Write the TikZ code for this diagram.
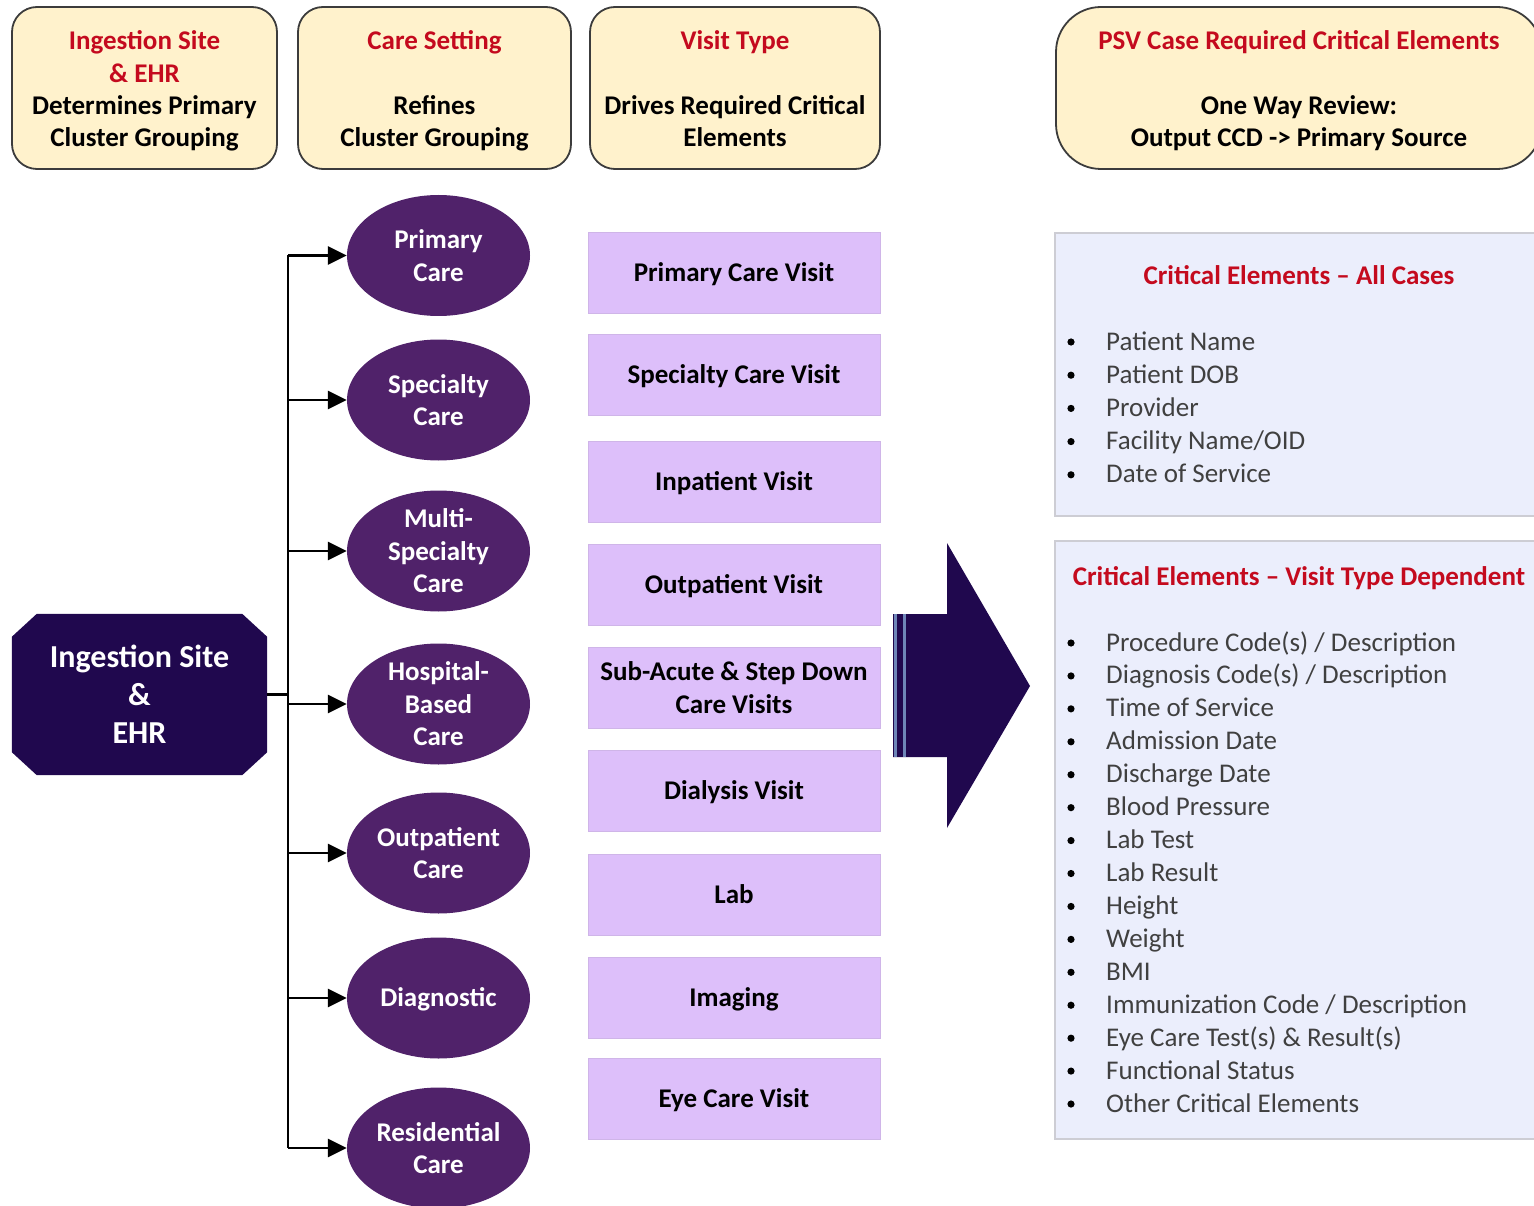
\documentclass[tikz,border=0pt]{standalone}
\usepackage{fontspec}
\setmainfont{Carlito}
\usetikzlibrary{arrows.meta,shapes.geometric,calc}
\definecolor{hdrfill}{RGB}{255,242,204}
\definecolor{hdrline}{RGB}{60,60,60}
\definecolor{redtxt}{RGB}{196,10,30}
\definecolor{indigo}{RGB}{32,8,78}
\definecolor{ellfill}{RGB}{80,34,106}
\definecolor{rectfill}{RGB}{221,191,250}
\definecolor{boxfill}{RGB}{235,238,252}
\definecolor{boxline}{RGB}{205,205,212}
\definecolor{itemtxt}{RGB}{64,64,64}
\definecolor{stripe}{RGB}{110,134,184}
\begin{document}
\begin{tikzpicture}[x=1pt,y=-1pt,
  hdr/.style={draw=hdrline, line width=1.8pt, fill=hdrfill, rounded corners=25pt,
    inner sep=0pt, minimum height=162pt},
  hdrtxt/.style={align=center, inner sep=0pt, font=\bfseries\fontsize{27}{32.3}\selectfont},
  ell/.style={ellipse, fill=ellfill, text=white, align=center, inner sep=0pt,
    minimum width=183pt, minimum height=121pt,
    font=\bfseries\fontsize{27}{32.5}\selectfont},
  visit/.style={rectangle, fill=rectfill, draw=rectfill!85!gray, line width=0.6pt,
    align=center, inner sep=0pt, minimum width=292pt, minimum height=81pt,
    font=\bfseries\fontsize{27}{33}\selectfont},
  oneline/.style={text height=23.5pt, text depth=6pt},
  info/.style={rectangle, fill=boxfill, draw=boxline, line width=1.4pt, inner sep=0pt},
  ttl/.style={text=redtxt, font=\bfseries\fontsize{27}{32}\selectfont, inner sep=0pt},
  item/.style={anchor=base west, text=itemtxt, font=\fontsize{27}{32}\selectfont, inner sep=0pt},
  arr/.style={line width=2.6pt, -{Triangle[length=19pt,width=18pt]}},
  trunk/.style={line width=2.6pt}
]
\useasboundingbox (0,0) rectangle (1534,1206);
\clip (0,0) rectangle (1534,1206);

% header boxes
\node[hdr, minimum width=265pt] (h1) at (144.5,88) {};
\node[hdr, minimum width=273pt] (h2) at (434.5,88) {};
\node[hdr, minimum width=290pt] (h3) at (735,88) {};
\node[hdr, minimum width=486pt, rounded corners=45pt] (h4) at (1299,88) {};
\node[hdrtxt] (h1t) at (144.5,91) {\textcolor{redtxt}{Ingestion Site}\\\textcolor{redtxt}{\& EHR}\\Determines Primary\\Cluster Grouping};
\node[hdrtxt] (h2t) at (434.5,91) {\textcolor{redtxt}{Care Setting}\\[32.3pt]Refines\\Cluster Grouping};
\node[hdrtxt] (h3t) at (735,88.5) {\textcolor{redtxt}{Visit Type}\\[32.3pt]Drives Required Critical\\Elements};
\node[hdrtxt] (h4t) at (1299,91) {\textcolor{redtxt}{PSV Case Required Critical Elements}\\[32.3pt]One Way Review:\\Output CCD -> Primary Source};

% octagon
\node[minimum width=255pt, minimum height=161pt, inner sep=0pt] (oct) at (139.5,694.5) {};
\fill[indigo] ([xshift=25pt]oct.north west) -- ([xshift=-25pt]oct.north east)
  -- ([yshift=-23pt]oct.north east) -- ([yshift=23pt]oct.south east)
  -- ([xshift=-25pt]oct.south east) -- ([xshift=25pt]oct.south west)
  -- ([yshift=23pt]oct.south west) -- ([yshift=-23pt]oct.north west) -- cycle;
\node[text=white, align=center, inner sep=0pt, font=\bfseries\fontsize{32}{38}\selectfont] (octtxt) at (oct.center) {Ingestion Site\\\&\\EHR};

% ellipses
\node[ell] (e1) at (438.5,255.5) {Primary\\Care};
\node[ell] (e2) at (438.5,400) {Specialty\\Care};
\node[ell] (e3) at (438.5,551) {Multi-\\Specialty\\Care};
\node[ell] (e4) at (438.5,704) {Hospital-\\Based\\Care};
\node[ell] (e5) at (438.5,853) {Outpatient\\Care};
\node[ell, oneline] (e6) at (438.5,998) {Diagnostic};
\node[ell] (e7) at (438.5,1148) {Residential\\Care};

% connectors
\coordinate (ttop) at (288,255.5);
\coordinate (tbot) at (288,1148);
\draw[trunk] (ttop) -- (tbot);
\draw[trunk] (oct.east) -- (oct.east -| ttop);
\foreach \k in {1,...,7} {
  \draw[arr] (ttop |- e\k.west) -- (e\k.west);
}

% visit rectangles
\node[visit, oneline] (v1) at (734,272.5) {Primary Care Visit};
\node[visit, oneline] (v2) at (734,374.5) {Specialty Care Visit};
\node[visit, oneline] (v3) at (734,481.5) {Inpatient Visit};
\node[visit, oneline] (v4) at (734,584.5) {Outpatient Visit};
\node[visit] (v5) at (734,688) {Sub-Acute \& Step Down\\Care Visits};
\node[visit, oneline] (v6) at (734,790.5) {Dialysis Visit};
\node[visit, oneline] (v7) at (734,894.5) {Lab};
\node[visit, oneline] (v8) at (734,997.5) {Imaging};
\node[visit, oneline] (v9) at (734,1098.5) {Eye Care Visit};

% big striped arrow
\fill[indigo] (893,614) -- (947,614) -- (947,543) -- (1030,686) -- (947,828) -- (947,757) -- (893,757) -- cycle;
\draw[stripe, line width=2.5pt] (895.5,614) -- (895.5,757);
\draw[stripe, line width=2.5pt] (904.5,614) -- (904.5,757);

% right info boxes
\node[info, minimum width=488pt, minimum height=283pt] (ba) at (1299,374.5) {};
\node[info, minimum width=488pt, minimum height=598pt] (bb) at (1299,840) {};
\node[ttl, oneline] (ta) at (1299,276) {Critical Elements -- All Cases};
\node[ttl, oneline] (tb) at (1299,577) {Critical Elements -- Visit Type Dependent};

\foreach \t [count=\i from 0] in {Patient Name, Patient DOB, Provider, Facility Name/OID, Date of Service} {
  \fill (1071,{341+33.2*\i+1}) circle (3.6pt);
  \node[item] (a\i) at (1106,{341+33.2*\i+9}) {\t};
}
\foreach \t [count=\i from 0] in {Procedure Code(s) / Description, Diagnosis Code(s) / Description, Time of Service, Admission Date, Discharge Date, Blood Pressure, Lab Test, Lab Result, Height, Weight, BMI, Immunization Code / Description, Eye Care Test(s) \& Result(s), Functional Status, Other Critical Elements} {
  \fill (1071,{642+32.93*\i+1}) circle (3.6pt);
  \node[item] (b\i) at (1106,{642+32.93*\i+9}) {\t};
}
\end{tikzpicture}
\end{document}
